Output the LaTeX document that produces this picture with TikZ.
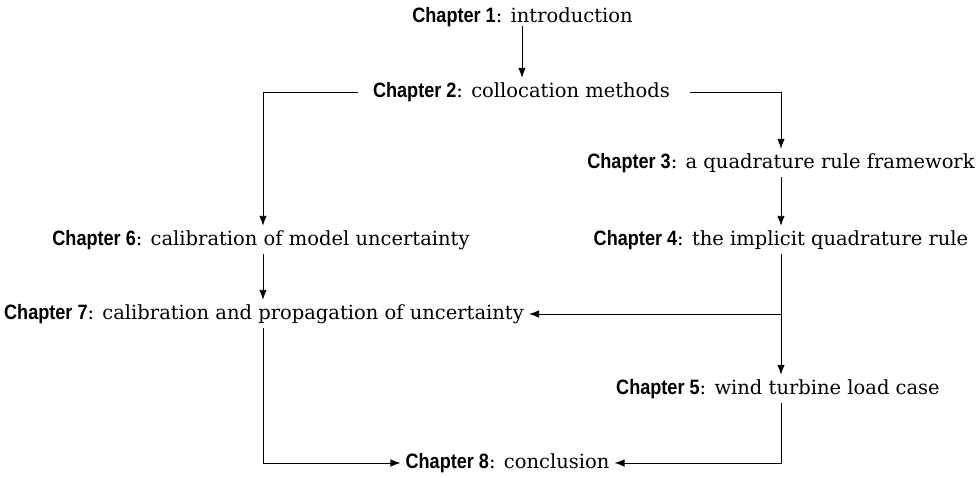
\documentclass[tikz,border=0pt]{standalone}
\usepackage{fontspec}
\setmainfont{DejaVu Serif}
\newfontfamily\chapfont[FakeStretch=0.87]{Liberation Sans}
\usetikzlibrary{arrows.meta}
\tikzset{
  chap/.style={inner sep=5pt, text height=14pt, text depth=4pt, font=\fontsize{19.5}{22}\selectfont},
  arr/.style={draw=black, line width=0.9pt, -{Latex[length=10pt,width=7.5pt]}},
  ln/.style={draw=black, line width=0.9pt}
}
\newcommand{\ch}[2]{{\chapfont\fontsize{20.8}{22}\selectfont\bfseries Chapter #1}: #2}
\begin{document}
\begin{tikzpicture}[x=1pt,y=-1pt]
\useasboundingbox (0,0) rectangle (978,477);
\node[chap] (c1) at (522.5,17) {\ch{1}{introduction}};
\node[chap] (c2) at (521.5,92) {\ch{2}{collocation methods}};
\node[chap] (c3) at (781,163) {\ch{3}{a quadrature rule framework}};
\node[chap] (c4) at (781,240) {\ch{4}{the implicit quadrature rule}};
\node[chap] (c6) at (261,240) {\ch{6}{calibration of model uncertainty}};
\node[chap] (c7) at (264,314) {\ch{7}{calibration and propagation of uncertainty}};
\node[chap] (c5) at (778,389) {\ch{5}{wind turbine load case}};
\node[chap] (c8) at (507.5,463) {\ch{8}{conclusion}};
\coordinate (kl) at (263,92);
\coordinate (kr) at (781,92);
\coordinate (kt) at (522,92);
\coordinate (kb) at (781,314);
\coordinate (kll) at (263,463);
\coordinate (krr) at (781,463);
\draw[arr] ([yshift=5pt]kt |- c1.south) -- (kt |- c2.north);
\draw[arr] ([xshift=-10pt]c2.west) -- (kl) -- (kl |- c6.north);
\draw[arr] ([xshift=15pt]c2.east) -- (kr) -- (kr |- c3.north);
\draw[arr] (kr |- c3.south) -- (kr |- c4.north);
\draw[arr] (kl |- c6.south) -- (kl |- c7.north);
\draw[arr] (kr |- c4.south) -- (kr |- c5.north);
\draw[arr] (kb) -- (c7.east);
\draw[arr] (kl |- c7.south) -- (kll) -- (c8.west);
\draw[arr] (kr |- c5.south) -- (krr) -- (c8.east);
\end{tikzpicture}
\end{document}
